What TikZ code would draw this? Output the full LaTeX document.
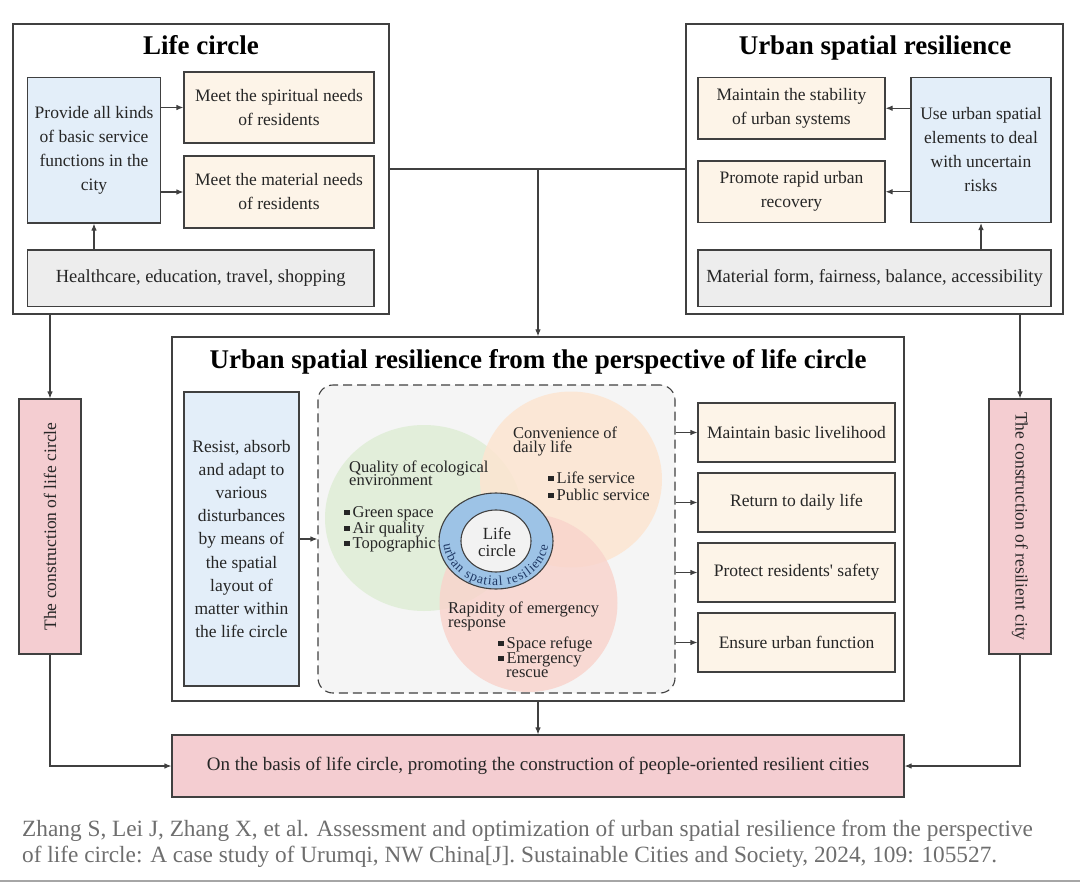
\documentclass[tikz,border=0pt]{standalone}
\usepackage{fontspec}
\setmainfont{Liberation Serif}
\usetikzlibrary{arrows.meta,decorations.text,calc}
\definecolor{bluebox}{HTML}{E3EEF9}
\definecolor{orangebox}{HTML}{FDF4E8}
\definecolor{graybox}{HTML}{EDEDED}
\definecolor{pinkbox}{HTML}{F4CDD1}
\definecolor{edge}{HTML}{404040}
\definecolor{vennbg}{HTML}{F5F5F5}
\definecolor{vgreen}{HTML}{E0EED8}
\definecolor{vorange}{HTML}{FDE5D1}
\definecolor{vpink}{HTML}{F9D3CB}
\definecolor{ringblue}{HTML}{9DC3E6}
\definecolor{ringinner}{HTML}{F2F2F2}
\definecolor{ringtext}{HTML}{1F3864}
\definecolor{citegray}{HTML}{6E6E6E}
\newcommand\bodyfont{\fontsize{17.5}{24}\selectfont}
\newcommand\grayfont{\fontsize{18.5}{24}\selectfont}
\newcommand\resfont{\fontsize{17.5}{23.1}\selectfont}
\newcommand\titlefont{\fontsize{27}{30}\selectfont\bfseries}
\newcommand\vennfont{\fontsize{16.5}{14}\selectfont}
\newcommand\ringfont{\fontsize{13.5}{14}\selectfont}
\newcommand\citefont{\fontsize{23.3}{26}\selectfont}
\newcommand\bsq{\raisebox{2pt}{\rule{5.5pt}{5.5pt}}\hspace{3pt}}
\begin{document}
\begin{tikzpicture}[x=1pt,y=1pt,
  box/.style={draw=edge, line width=1.1pt, align=center, inner sep=1pt, font=\bodyfont, text=black!85},
  outer/.style={draw=edge, line width=1.2pt, fill=white, inner sep=0pt},
  bluebx/.style={box, fill=bluebox},
  orangebx/.style={box, fill=orangebox},
  graybx/.style={box, fill=graybox, font=\grayfont},
  pinkbx/.style={box, fill=pinkbox},
  sz/.style 2 args={minimum width=#1pt, minimum height=#2pt},
  conn/.style={draw=edge, line width=1.1pt},
  arr/.style={conn, -{Latex[length=7pt,width=5.5pt]}},
  ttl/.style={font=\titlefont, inner sep=0pt, anchor=base},
  vtxt/.style={font=\vennfont, inner sep=0pt, anchor=base west, text=black!85},
]
\useasboundingbox (0,0) rectangle (1080,-883);
\fill[white] (0,0) rectangle (1080,-883);

% ---------- Life circle ----------
\node[outer, sz={376}{290}] (lc) at (201,-169) {};
\node[ttl] (lct) at (201,-55) {Life circle};
\node[bluebx, sz={133}{145.5}] (lcb) at (94,-150.25) {Provide all kinds\\of basic service\\functions in the\\city};
\node[orangebx, sz={190}{71}] (spir) at (279,-107.5) {Meet the spiritual needs\\of residents};
\node[orangebx, sz={190}{72}] (mat) at (279,-192) {Meet the material needs\\of residents};
\node[graybx, sz={346.5}{56.5}] (hea) at (200.75,-278.25) {Healthcare, education, travel, shopping};
\draw[arr] (lcb.east |- spir.west) -- (spir.west);
\draw[arr] (lcb.east |- mat.west) -- (mat.west);
\draw[arr] (lcb.south |- hea.north) -- (lcb.south);

% ---------- Urban spatial resilience ----------
\node[outer, sz={377}{290}] (usr) at (874.5,-169) {};
\node[ttl] (usrt) at (875,-55) {Urban spatial resilience};
\node[orangebx, sz={187}{61.5}] (stab) at (791.5,-108.25) {Maintain the stability\\of urban systems};
\node[orangebx, sz={187}{61.5}] (prom) at (791.5,-191.75) {Promote rapid urban\\recovery};
\node[bluebx, sz={140}{145}] (usb) at (981,-150) {Use urban spatial\\elements to deal\\with uncertain\\risks};
\node[graybx, sz={353}{56.5}] (matf) at (874.5,-278.25) {Material form, fairness, balance, accessibility};
\draw[arr] (usb.west |- stab.east) -- (stab.east);
\draw[arr] (usb.west |- prom.east) -- (prom.east);
\draw[arr] (usb.south |- matf.north) -- (usb.south);

% ---------- Middle ----------
\node[outer, sz={732}{364}] (mid) at (538,-519) {};
\node[ttl] (midt) at (538,-368) {Urban spatial resilience from the perspective of life circle};
\node[bluebx, sz={115}{294}, font=\resfont] (res) at (241.5,-539) {Resist, absorb\\and adapt to\\various\\disturbances\\by means of\\the spatial\\layout of\\matter within\\the life circle};
\node[draw=edge, line width=1.1pt, dashed, dash pattern=on 9pt off 5pt, fill=vennbg, rounded corners=15pt, sz={357}{308}, inner sep=0pt] (venn) at (496.5,-539) {};

% venn circles
\fill[vgreen, fill opacity=0.9] (424,-518) ellipse [x radius=99, y radius=93];
\fill[vorange, fill opacity=0.85] (571,-479.5) ellipse [x radius=91, y radius=88];
\fill[vpink, fill opacity=0.8] (528.5,-603) ellipse [x radius=89, y radius=89];

% venn texts
\node[vtxt] (q1) at (349,-472) {Quality of ecological};
\node[vtxt] (q2) at (349,-485) {environment};
\node[vtxt] (g1) at (344,-517) {\bsq Green space};
\node[vtxt] (g2) at (344,-533) {\bsq Air quality};
\node[vtxt] (g3) at (344,-548) {\bsq Topographic};
\node[vtxt] (c1) at (513,-438) {Convenience of};
\node[vtxt] (c2) at (513,-452) {daily life};
\node[vtxt] (s1) at (548,-483) {\bsq Life service};
\node[vtxt] (s2) at (548,-500) {\bsq Public service};
\node[vtxt] (e1) at (448,-613) {Rapidity of emergency};
\node[vtxt] (e2) at (448,-627) {response};
\node[vtxt] (b1) at (498,-648) {\bsq Space refuge};
\node[vtxt] (b2) at (498,-663) {\bsq Emergency};
\node[vtxt] (b3) at (506,-677) {rescue};

% ring
\draw[edge, line width=1.1pt, fill=ringblue] (496,-541) ellipse [x radius=57, y radius=48];
\draw[edge, line width=1.1pt, fill=ringinner] (496,-541) ellipse [x radius=35, y radius=31];
\node[align=center, font=\fontsize{17}{17}\selectfont, inner sep=0pt, text=black!85] (lcc) at (497,-542) {Life\\circle};
\path[decorate, decoration={text along path, text={|\ringfont|urban spatial resilience}, text color=ringtext, text align={fit to path}}]
  (496,-541) ++(184:52.5 and 44.5) arc[start angle=184, end angle=354, x radius=52.5, y radius=44.5];

% right boxes
\node[orangebx, sz={197}{59}] (r1) at (796.5,-432.5) {Maintain basic livelihood};
\node[orangebx, sz={197}{59}] (r2) at (796.5,-502.5) {Return to daily life};
\node[orangebx, sz={197}{59}] (r3) at (796.5,-572.5) {Protect residents\textquotesingle\ safety};
\node[orangebx, sz={197}{59}] (r4) at (796.5,-642.5) {Ensure urban function};
\draw[arr] (res.east) -- (venn.west);
\foreach \r in {r1,r2,r3,r4} \draw[arr] (venn.east |- \r.west) -- (\r.west);

% ---------- side and bottom ----------
\node[pinkbx, sz={62}{255}] (pl) at (50,-526.5) {\rotatebox{90}{The construction of life circle}};
\node[pinkbx, sz={62}{255}] (pr) at (1020,-526.5) {\rotatebox{-90}{The construction of resilient city}};
\node[pinkbx, sz={732}{62}, font=\fontsize{19}{24}\selectfont] (bot) at (538,-766) {On the basis of life circle, promoting the construction of people-oriented resilient cities};

\coordinate (j) at (mid.north |- lc.east);
\draw[conn] (lc.east) -- (usr.west);
\draw[arr] (j) -- (mid.north);
\draw[arr] (lc.south -| pl.north) -- (pl.north);
\draw[arr] (usr.south -| pr.north) -- (pr.north);
\draw[arr] (pl.south) |- (bot.west);
\draw[arr] (pr.south) |- (bot.east);
\draw[arr] (mid.south) -- (bot.north);

% ---------- citation ----------
\node[anchor=base west, font=\citefont, text=citegray, inner sep=0pt] (cit1) at (22,-836) {Zhang S, Lei J, Zhang X, et al. Assessment and optimization of urban spatial resilience from the perspective};
\node[anchor=base west, font=\citefont, text=citegray, inner sep=0pt] (cit2) at (22,-862) {of life circle: A case study of Urumqi, NW China[J]. Sustainable Cities and Society, 2024, 109: 105527.};
\draw[black!35, line width=1.5pt] (0,-881) -- (1080,-881);
\end{tikzpicture}
\end{document}
